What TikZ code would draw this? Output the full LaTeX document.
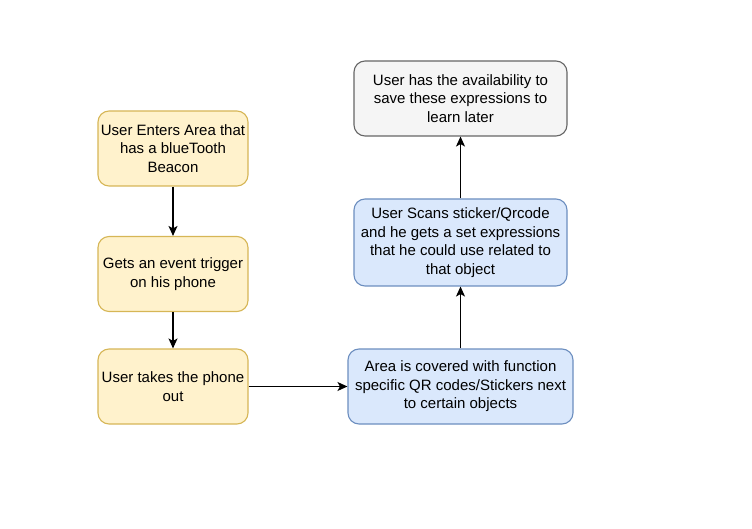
\documentclass[tikz,border=0pt]{standalone}
\usepackage{fontspec}
\setmainfont{Liberation Sans}
\usetikzlibrary{arrows.meta}
\definecolor{yfill}{HTML}{FFF2CC}
\definecolor{ydraw}{HTML}{D6B656}
\definecolor{bfill}{HTML}{DAE8FC}
\definecolor{bdraw}{HTML}{6C8EBF}
\definecolor{gfill}{HTML}{F5F5F5}
\definecolor{gdraw}{HTML}{666666}
\begin{document}
\begin{tikzpicture}[x=1pt,y=-1pt,
  box/.style={rounded corners=11pt,line width=1.1pt,align=center,inner sep=0pt,
    font=\fontsize{15}{18.5}\selectfont},
  ybox/.style={box,fill=yfill,draw=ydraw},
  bbox/.style={box,fill=bfill,draw=bdraw},
  gbox/.style={box,fill=gfill,draw=gdraw},
  conn/.style={line width=1.2pt,-{Stealth[length=10pt,width=9pt,inset=2.5pt]}}]
\useasboundingbox (0,0) rectangle (752,529);
\node[ybox,minimum width=150pt,minimum height=75pt] (n1) at (173,148.5) {User Enters Area that\\has a blueTooth\\Beacon};
\node[ybox,minimum width=150pt,minimum height=75pt] (n2) at (173,274) {Gets an event trigger\\on his phone};
\node[ybox,minimum width=150pt,minimum height=75pt] (n3) at (173,386.5) {User takes the phone\\out};
\node[bbox,minimum width=225pt,minimum height=75pt] (n4) at (460.5,386.5) {Area is covered with function\\specific QR codes/Stickers next\\to certain objects};
\node[bbox,minimum width=213pt,minimum height=87pt] (n5) at (460.5,242.5) {User Scans sticker/Qrcode\\and he gets a set expressions\\that he could use related to\\that object};
\node[gbox,minimum width=213pt,minimum height=75pt] (n6) at (460.5,98.5) {User has the availability to\\save these expressions to\\learn later};
\draw[conn] (n1) -- (n2);
\draw[conn] (n2) -- (n3);
\draw[conn] (n3) -- (n4);
\draw[conn] (n4) -- (n5);
\draw[conn] (n5) -- (n6);
\end{tikzpicture}
\end{document}
